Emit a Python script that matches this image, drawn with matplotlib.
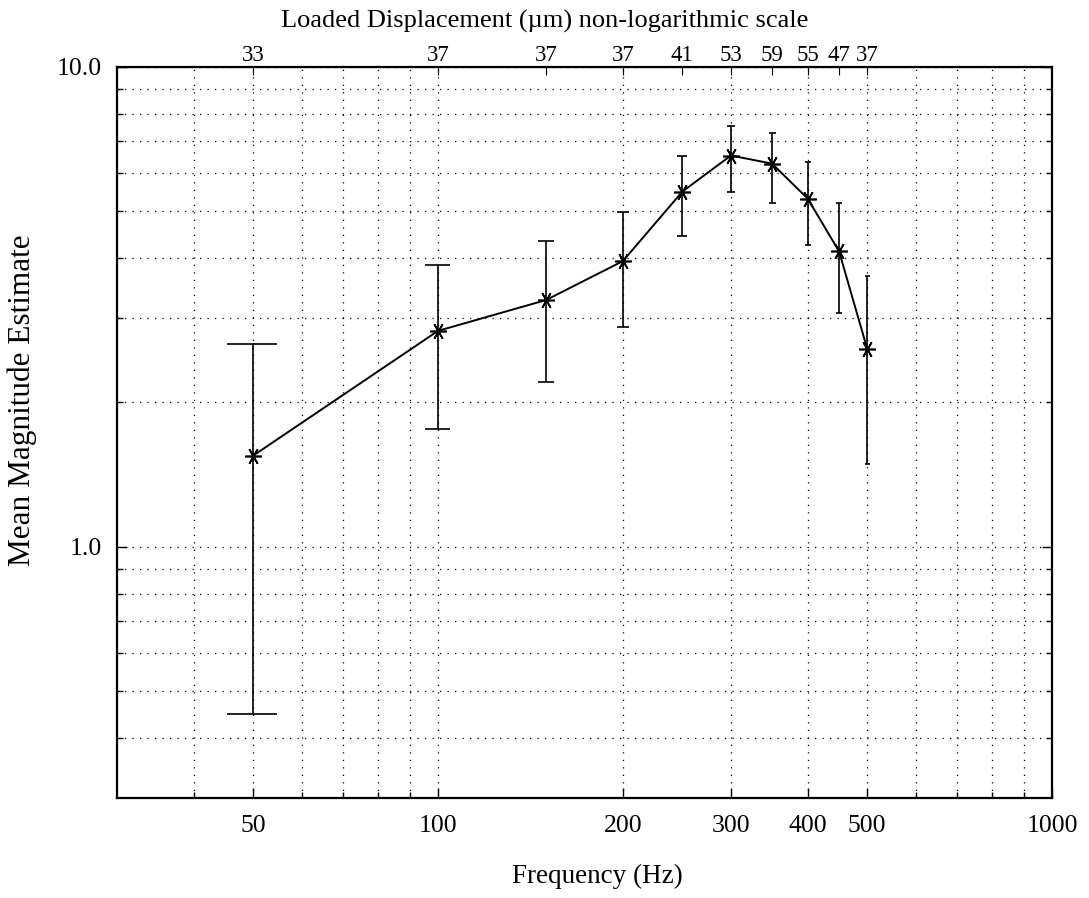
import numpy as np
import matplotlib.pyplot as plt
from matplotlib.ticker import FixedLocator, NullFormatter, FixedFormatter

plt.rcParams['font.family'] = ['Liberation Serif', 'DejaVu Serif']

# data
freq = [50, 100, 150, 200, 250, 300, 350, 400, 450, 500]          # Hz
mean_mag = [1.55, 2.82, 3.27, 3.94, 5.50, 6.54, 6.29, 5.32, 4.13, 2.59]
err_hi = [2.65, 3.87, 4.33, 4.98, 6.51, 7.55, 7.30, 6.35, 5.20, 3.67]
err_lo = [0.448, 1.76, 2.21, 2.87, 4.44, 5.48, 5.22, 4.25, 3.07, 1.49]
displ = ['33', '37', '37', '37', '41', '53', '59', '55', '47', '37']  # um

xtick_vals = [50, 100, 200, 300, 400, 500, 1000]
xminor = [40, 60, 70, 80, 90, 600, 700, 800, 900]
ytick_vals = [1.0, 10.0]
yminor = [0.4, 0.5, 0.6, 0.7, 0.8, 0.9, 2, 3, 4, 5, 6, 7, 8, 9]

fig = plt.figure(figsize=(10.89, 8.98), dpi=100)
ax = fig.add_axes([0.1074, 0.1114, 0.966 - 0.1074, 0.9254 - 0.1114])
ax.set_xscale('log')
ax.set_yscale('log')
ax.set_xlim(30, 1000)
ax.set_ylim(0.3, 10)

# error bars, caps are a fixed +-4.6 Hz wide like the original
ax.vlines(freq, err_lo, err_hi, color='black', lw=1.2, zorder=3)
cap = 4.6
for f, lo, hi in zip(freq, err_lo, err_hi):
    ax.hlines([lo, hi], f - cap, f + cap, color='black', lw=1.2, zorder=3)

ax.plot(freq, mean_mag, color='black', lw=1.4, marker=(6, 2, 90),
        ms=12, mew=1.2, zorder=4)

# ticks
ax.xaxis.set_major_locator(FixedLocator(xtick_vals))
ax.xaxis.set_major_formatter(FixedFormatter([str(v) for v in xtick_vals]))
ax.xaxis.set_minor_locator(FixedLocator(xminor))
ax.xaxis.set_minor_formatter(NullFormatter())
ax.yaxis.set_major_locator(FixedLocator(ytick_vals))
ax.yaxis.set_major_formatter(FixedFormatter(['1.0', '10.0']))
ax.yaxis.set_minor_locator(FixedLocator(yminor))
ax.yaxis.set_minor_formatter(NullFormatter())
ax.tick_params(which='both', direction='in', top=False, right=True,
               labelsize=18.5, width=1)
ax.tick_params(which='major', length=7, pad=12)
ax.tick_params(which='minor', length=4)
ax.tick_params(axis='y', which='major', pad=11)

ax.grid(True, which='both', color='black', lw=0.9, linestyle=(0, (1, 5)))
for s in ax.spines.values():
    s.set_linewidth(1.6)

# labels sit a bit off-centre in the original
ax.set_xlabel('Frequency (Hz)', fontsize=19.5)
ax.xaxis.set_label_coords(0.5134, -0.0903)
ax.set_ylabel('Mean Magnitude Estimate', fontsize=22.5)
ax.yaxis.set_label_coords(-0.0856, 0.5445)

# top axis with displacement values
top = ax.secondary_xaxis('top')
top.set_xticks(freq)
top.set_xticklabels(displ)
top.xaxis.set_minor_locator(FixedLocator([]))
top.tick_params(direction='in', length=6, labelsize=16.5, pad=1)
fig.text(0.5005, 0.9688, 'Loaded Displacement (\u00b5m) non-logarithmic scale',
         ha='center', va='baseline', fontsize=19)

plt.savefig('out.png', dpi=100)
